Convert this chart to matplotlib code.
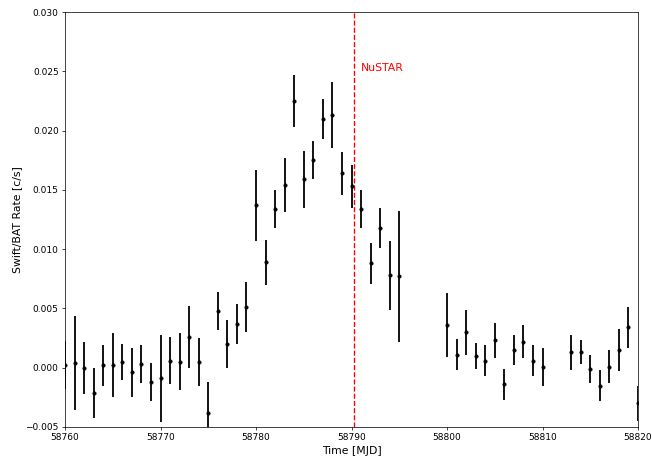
import matplotlib
matplotlib.use("Agg")
import matplotlib.pyplot as plt
import numpy as np

# Swift/BAT daily light curve
mjd = [58760, 58761, 58762, 58763, 58764, 58765, 58766, 58767, 58768, 58769,
       58770, 58771, 58772, 58773, 58774, 58775, 58776, 58777, 58778, 58779,
       58780, 58781, 58782, 58783, 58784, 58785, 58786, 58787, 58788, 58789,
       58790, 58791, 58792, 58793, 58794, 58795,
       58800, 58801, 58802, 58803, 58804, 58805, 58806, 58807, 58808, 58809, 58810,
       58813, 58814, 58815, 58816, 58817, 58818, 58819, 58820]

rate = [0.00024, 0.0004, 0.0000, -0.0021, 0.0002, 0.0002, 0.0005, -0.0004, 0.0003, -0.0012,
        -0.0009, 0.0006, 0.0005, 0.0026, 0.0005, -0.0038, 0.0048, 0.0020, 0.0037, 0.0051,
        0.0137, 0.0089, 0.0134, 0.0154, 0.0225, 0.0159, 0.0175, 0.0210, 0.0213, 0.0164,
        0.0153, 0.0134, 0.0088, 0.0118, 0.0078, 0.0077,
        0.0036, 0.0011, 0.0030, 0.0010, 0.0006, 0.0023, -0.0014, 0.0015, 0.0022, 0.0006, 0.0001,
        0.0013, 0.0013, -0.0001, -0.0015, 0.0001, 0.0015, 0.0034, -0.0030]

rate_err = [0.0020, 0.0040, 0.0022, 0.0021, 0.0017, 0.0027, 0.0015, 0.0021, 0.0016, 0.0016,
            0.0037, 0.0020, 0.0024, 0.0026, 0.0020, 0.0026, 0.0016, 0.0020, 0.0017, 0.0021,
            0.0030, 0.0019, 0.0016, 0.0023, 0.0022, 0.0024, 0.0016, 0.0017, 0.0028, 0.0018,
            0.0018, 0.0016, 0.0017, 0.0017, 0.0029, 0.0055,
            0.0027, 0.0013, 0.0019, 0.0011, 0.0013, 0.0015, 0.0013, 0.0013, 0.0014, 0.0013, 0.0016,
            0.0015, 0.0010, 0.0012, 0.0013, 0.0014, 0.0018, 0.0017, 0.0015]

nustar_mjd = 58790.3

fig = plt.figure(figsize=(652 / 65, 458 / 65), dpi=65)
ax = fig.add_axes([65 / 652, 31 / 458, 573 / 652, 415 / 458])

ax.errorbar(mjd, rate, yerr=rate_err, fmt='.', color='black', ecolor='black',
            elinewidth=2, markersize=7, capsize=0)

ax.axvline(nustar_mjd, color='red', linestyle='--', linewidth=1.5)
ax.text(nustar_mjd + 0.7, 0.0250, 'NuSTAR', color='red', fontsize=12)

ax.set_xlim(58760, 58820)
ax.set_ylim(-0.005, 0.030)
ax.set_xticks(np.arange(58760, 58821, 10))
ax.set_yticks(np.arange(-0.005, 0.0301, 0.005))
ax.ticklabel_format(axis='x', useOffset=False, style='plain')
ax.tick_params(labelsize=10)
ax.set_xlabel('Time [MJD]', fontsize=12)
ax.set_ylabel('Swift/BAT Rate [c/s]', fontsize=12)

fig.savefig('out.png', dpi=65)
